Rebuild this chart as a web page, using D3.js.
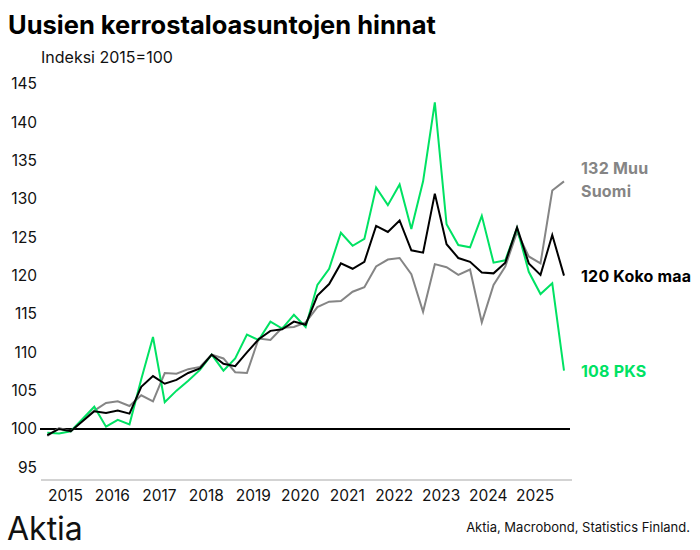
<!DOCTYPE html>
<html>
<head>
<meta charset="utf-8">
<script src="https://cdn.jsdelivr.net/npm/d3@7"></script>
<style>
  html, body { margin: 0; padding: 0; background: #fff; }
  svg { display: block; font-family: Inter, "Noto Sans", sans-serif; }
</style>
</head>
<body>
<svg id="chart" width="700" height="550"></svg>
<script>
// Quarterly observations, first = 2015 Q1
const startYear = 2015;
const pks = [99.5, 99.4, 99.7, 101.3, 102.9, 100.3, 101.2, 100.6, 106.5, 112.0,
  103.5, 105.0, 106.3, 107.7, 109.7, 107.6, 109.2, 112.3, 111.6, 114.0,
  113.1, 114.9, 113.3, 118.8, 120.9, 125.6, 123.9, 124.8, 131.5, 129.2,
  131.9, 126.1, 132.3, 142.6, 126.7, 124.0, 123.7, 127.8, 121.7, 122.0,
  126.2, 120.5, 117.6, 119.0, 107.6];
const kokoMaa = [99.2, 100.0, 99.7, 101.0, 102.3, 102.1, 102.4, 102.0, 105.5, 106.9,
  105.9, 106.4, 107.3, 107.9, 109.7, 108.5, 108.2, 110.0, 111.7, 112.8,
  113.0, 114.0, 113.6, 117.4, 118.9, 121.6, 120.9, 121.8, 126.5, 125.7,
  127.2, 123.3, 123.0, 130.7, 124.1, 122.3, 121.8, 120.4, 120.3, 121.7,
  126.3, 121.6, 120.1, 125.3, 120.0];
const muuSuomi = [99.1, 100.1, 99.7, 101.2, 102.4, 103.4, 103.6, 103.0, 104.4, 103.6,
  107.3, 107.2, 107.8, 108.1, 109.7, 109.2, 107.4, 107.3, 111.8, 111.6,
  113.2, 113.3, 113.9, 115.9, 116.6, 116.7, 117.9, 118.5, 121.2, 122.1,
  122.3, 120.2, 115.3, 121.5, 121.1, 120.1, 120.8, 113.9, 118.8, 121.2,
  125.7, 122.5, 121.6, 131.1, 132.3];
const yTicks = [95, 100, 105, 110, 115, 120, 125, 130, 135, 140, 145];
const years = [2015, 2016, 2017, 2018, 2019, 2020, 2021, 2022, 2023, 2024, 2025];
const seriesNames = ["Muu Suomi", "PKS", "Koko maa"];
const endLabels = [["132 Muu", "Suomi"], ["108 PKS"], ["120 Koko maa"]];

const colors = { "Muu Suomi": "#858585", "PKS": "#00e263", "Koko maa": "#000000" };

const svg = d3.select("#chart");

// x: quarter index -> pixel
const qIndex = (yr, q) => (yr - startYear) * 4 + q;
const x = d3.scaleLinear().domain([0, 44]).range([47.3, 564]);
const y = d3.scaleLinear().domain([95, 145]).range([467.3, 84]);

// Title & subtitle
svg.append("text").attr("x", 8).attr("y", 34)
  .attr("font-size", 25.5).attr("font-weight", 700).attr("fill", "#000")
  .text("Uusien kerrostaloasuntojen hinnat");
svg.append("text").attr("x", 41).attr("y", 63)
  .attr("font-size", 16).attr("fill", "#111")
  .text("Indeksi 2015=100");

// Y axis
const yAxis = d3.axisLeft(y).tickValues(yTicks).tickSize(0).tickPadding(0);
const gy = svg.append("g").attr("transform", "translate(37,0)").call(yAxis);
gy.select(".domain").remove();
gy.selectAll("text").attr("font-size", 15.5).attr("fill", "#111")
  .attr("font-family", "Inter, sans-serif");

// X axis (labels at year centres)
const xAxis = d3.axisBottom(x)
  .tickValues(years.map(yr => qIndex(yr, 1.5)))
  .tickFormat((d, i) => years[i])
  .tickSize(0).tickPadding(0);
const gx = svg.append("g").attr("transform", "translate(0,490)").call(xAxis);
gx.select(".domain").remove();
gx.selectAll("text").attr("font-size", 15.5).attr("fill", "#111")
  .attr("font-family", "Inter, sans-serif");

// bottom axis line
svg.append("line").attr("x1", 41).attr("x2", 572)
  .attr("y1", 480).attr("y2", 480)
  .attr("stroke", "#c4c4c4").attr("stroke-width", 1.5);

// 100 base line
svg.append("line").attr("x1", 40).attr("x2", 570)
  .attr("y1", y(100)).attr("y2", y(100))
  .attr("stroke", "#000").attr("stroke-width", 2);

const line = d3.line().x((d, i) => x(i)).y(d => y(d));
const dataMap = { "Muu Suomi": muuSuomi, "PKS": pks, "Koko maa": kokoMaa };

seriesNames.forEach(name => {
  svg.append("path").datum(dataMap[name])
    .attr("fill", "none").attr("stroke", colors[name])
    .attr("stroke-width", 2).attr("stroke-linejoin", "miter")
    .attr("d", line);
});

// End labels
const labelY = { "Muu Suomi": 174, "PKS": 377, "Koko maa": 282 };
seriesNames.forEach((name, k) => {
  const t = svg.append("text").attr("x", 581).attr("y", labelY[name])
    .attr("font-size", 16).attr("font-weight", 700).attr("fill", colors[name])
    .attr("letter-spacing", "0.2");
  endLabels[k].forEach((s, j) => {
    t.append("tspan").attr("x", 581).attr("dy", j === 0 ? 0 : 23).text(s);
  });
});

// Footer
svg.append("text").attr("x", 7).attr("y", 540)
  .attr("font-size", 32).attr("font-weight", 400).attr("fill", "#111")
  .text("Aktia");
svg.append("text").attr("x", 690).attr("y", 532).attr("text-anchor", "end")
  .attr("font-size", 13).attr("fill", "#111")
  .text("Aktia, Macrobond, Statistics Finland.");
</script>
</body>
</html>
